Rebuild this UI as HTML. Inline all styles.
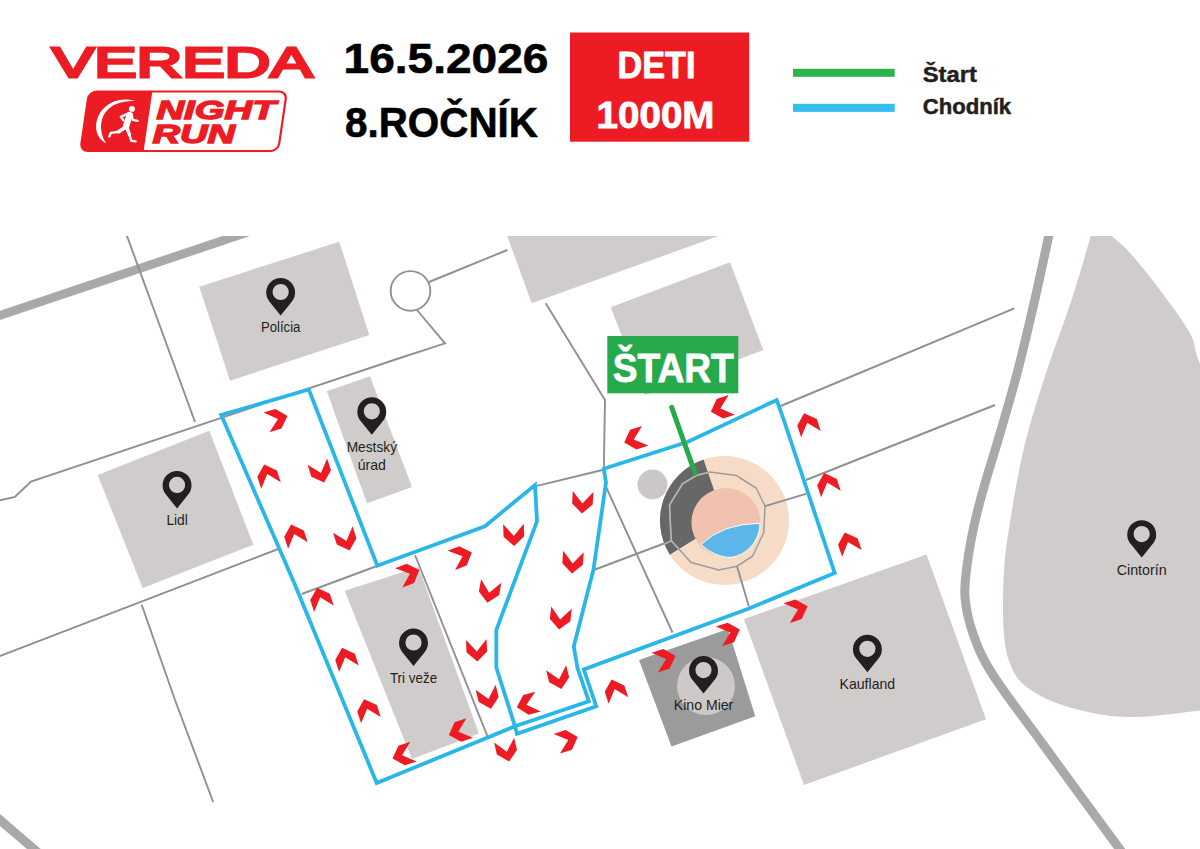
<!DOCTYPE html>
<html lang="sk"><head><meta charset="utf-8"><title>Vereda Night Run – Deti 1000M</title>
<style>
html,body{margin:0;padding:0;background:#fff;}
body{width:1200px;height:849px;overflow:hidden;}
svg{display:block;font-family:"Liberation Sans", sans-serif;}
</style></head><body>
<svg width="1200" height="849" viewBox="0 0 1200 849">
<rect width="1200" height="849" fill="#fff"/>
<defs><clipPath id="mapclip"><rect x="0" y="236" width="1200" height="613"/></clipPath></defs>
<g clip-path="url(#mapclip)">
<polygon points="199.3,286.7 339.3,241.7 369.3,335.0 230.0,380.7" fill="#d0cccb"/>
<polygon points="97.7,475.0 209.3,430.7 253.3,544.7 142.7,588.0" fill="#d0cccb"/>
<polygon points="326.8,391.2 370.0,376.2 412.0,487.0 367.0,503.2" fill="#d0cccb"/>
<polygon points="344.7,590.8 418.5,567.0 478.9,733.5 411.9,758.9" fill="#d0cccb"/>
<polygon points="507.3,236.0 718.3,236.0 531.7,303.3" fill="#d0cccb"/>
<polygon points="610.7,307.3 730.0,262.3 763.3,350.0 645.0,395.0" fill="#d0cccb"/>
<polygon points="744.0,619.0 926.5,554.5 986.0,719.3 804.0,785.0" fill="#d0cccb"/>
<polygon points="639.0,660.0 728.0,629.0 755.3,716.3 671.5,746.5" fill="#9b9b9b"/>
<circle cx="706" cy="686" r="29" fill="#cdc9c8"/>
<path d="M1093.5,226.0 C1091.5,227.7 1094.5,223.6 1090.8,236.0 C1087.1,248.4 1078.7,278.1 1071.3,300.7 C1063.9,323.2 1054.2,347.8 1046.6,371.3 C1038.9,394.9 1031.2,418.9 1025.4,442.0 C1019.6,465.1 1015.5,489.2 1012.0,510.0 C1008.5,530.8 1005.7,547.4 1004.3,567.0 C1002.9,586.6 1002.6,611.9 1003.5,627.8 C1004.4,643.7 1005.9,652.8 1009.6,662.6 C1013.4,672.4 1016.7,679.3 1026.0,686.5 C1035.3,693.7 1048.5,700.9 1065.2,706.0 C1081.9,711.1 1103.5,716.3 1126.0,717.0 C1148.5,717.7 1182.7,712.4 1200.0,710.4 C1217.3,708.4 1225.0,753.4 1230.0,705.0 C1235.0,656.6 1235.0,476.9 1230.0,420.0 C1225.0,363.1 1206.7,377.8 1200.0,363.3 C1193.3,348.9 1196.7,345.5 1190.0,333.3 C1183.3,321.1 1170.0,303.4 1160.0,290.0 C1150.0,276.6 1138.0,262.0 1130.0,253.0 C1122.0,244.0 1116.5,240.5 1112.0,236.0 C1107.5,231.5 1106.1,227.7 1103.0,226.0 C1099.9,224.3 1095.5,224.3 1093.5,226.0" fill="#d0cccb"/>
<path d="M-30,325.4 L265.2,226.3" stroke="#a9a9a9" stroke-width="8.8" fill="none"/>
<path d="M-6,814.8 L42,856" stroke="#a9a9a9" stroke-width="9" fill="none"/>
<path d="M1051.0,226.0 C1050.6,227.7 1051.4,223.6 1048.7,236.0 C1046.0,248.4 1039.8,278.1 1034.6,300.7 C1029.4,323.2 1023.8,347.8 1017.6,371.3 C1011.4,394.9 1002.8,423.9 997.5,442.0 C992.2,460.1 989.7,467.0 986.0,480.0 C982.3,493.0 978.3,506.7 975.3,520.0 C972.3,533.3 969.5,547.2 967.8,560.0 C966.1,572.8 964.0,584.2 965.0,597.0 C966.0,609.8 969.2,623.4 974.0,636.5 C978.8,649.6 981.9,657.6 993.5,675.7 C1005.1,693.8 1022.5,716.1 1043.5,745.0 C1064.5,773.9 1105.5,829.7 1119.6,849.0 C1133.7,868.3 1126.6,859.0 1128.0,861.0" stroke="#a9a9a9" stroke-width="9" fill="none"/>
<polyline points="123.5,226.0 127.0,236.0 195.0,422.0" stroke="#909090" stroke-width="1.9" fill="none"/>
<polyline points="-5.0,501.5 15.0,496.8 31.0,481.5 400.0,358.0 445.0,343.3 416.5,309.5" stroke="#909090" stroke-width="1.9" fill="none"/>
<polyline points="429.0,282.0 507.3,250.0" stroke="#909090" stroke-width="1.9" fill="none"/>
<polyline points="545.7,303.3 605.0,400.0 603.8,470.0" stroke="#909090" stroke-width="1.9" fill="none"/>
<polyline points="537.0,485.8 602.5,470.0" stroke="#909090" stroke-width="1.9" fill="none"/>
<polyline points="606.3,487.5 672.5,632.5" stroke="#909090" stroke-width="1.9" fill="none"/>
<polyline points="593.8,570.0 672.0,540.5" stroke="#909090" stroke-width="1.9" fill="none"/>
<polyline points="415.0,555.0 487.5,736.3" stroke="#909090" stroke-width="1.9" fill="none"/>
<polyline points="-5.0,658.0 278.3,549.0" stroke="#909090" stroke-width="1.9" fill="none"/>
<polyline points="301.7,594.0 377.0,566.0" stroke="#909090" stroke-width="1.9" fill="none"/>
<polyline points="141.7,604.7 175.0,700.0 213.2,802.0" stroke="#909090" stroke-width="1.9" fill="none"/>
<polyline points="779.5,406.5 1014.3,308.3" stroke="#909090" stroke-width="1.9" fill="none"/>
<polyline points="806.0,480.0 995.0,405.0" stroke="#909090" stroke-width="1.9" fill="none"/>
<circle cx="410.5" cy="290.9" r="19.8" fill="#fff" stroke="#909090" stroke-width="1.9"/>
<circle cx="652.5" cy="484.5" r="15" fill="#cbc7c6"/>
<circle cx="724.5" cy="520.5" r="64.5" fill="#f6dcc6"/>
<path d="M669.8,554.7 A64.5,64.5 0 0 1 703.5,459.5 L714.7,492.1 A30,30 0 0 0 699.1,536.4 Z" fill="#676767"/>
<circle cx="725.9" cy="522.5" r="34.5" fill="#f1c2af"/>
<path d="M701.25,544.25 Q722.5,523.75 760,523.25 C760,545 740,560 725,557 C715,555 706.25,550 701.25,544.25 Z" fill="#5cb6e9" stroke="#fff" stroke-width="1"/>
<polygon points="671.2,540.8 669.5,505.0 682.5,483.8 696.2,475.5 710.0,472.0 736.2,475.5 756.2,488.0 765.0,506.2 763.8,532.5 752.5,556.2 737.0,566.2 718.8,570.0 691.2,562.5" stroke="#9c9c9c" stroke-width="1.5" fill="none"/>
<clipPath id="sec"><path d="M669.8,554.7 A64.5,64.5 0 0 1 703.5,459.5 L714.7,492.1 A30,30 0 0 0 699.1,536.4 Z"/></clipPath>
<g clip-path="url(#sec)"><polygon points="671.2,540.8 669.5,505.0 682.5,483.8 696.2,475.5 710.0,472.0 736.2,475.5 756.2,488.0 765.0,506.2 763.8,532.5 752.5,556.2 737.0,566.2 718.8,570.0 691.2,562.5" stroke="#b4b4b4" stroke-width="1.5" fill="none"/><polyline points="640.0,555.6 671.2,540.8" stroke="#b4b4b4" stroke-width="1.6" fill="none"/></g>
<polyline points="765.0,506.2 806.0,493.8" stroke="#909090" stroke-width="1.9" fill="none"/>
<polyline points="737.0,566.2 748.8,606.2" stroke="#909090" stroke-width="1.9" fill="none"/>
<polyline points="293.8,582.0 221.2,415.0 308.8,389.5 377.3,565.7 485.0,526.3 535.0,485.0 537.0,521.3 496.3,630.0 496.3,667.5 515.0,726.3" stroke="#2bb6e9" stroke-width="3.8" fill="none" stroke-linejoin="miter"/>
<polyline points="293.8,582.0 376.7,783.0 515.0,726.3 517.0,733.8 596.3,706.3 583.8,669.5 749.0,608.5 834.7,573.0 783.8,420.0 776.7,400.0 688.0,441.8 603.8,468.8 606.0,482.5 593.5,569.5 573.8,646.3 577.5,668.0 588.8,701.2 515.0,726.3" stroke="#2bb6e9" stroke-width="3.8" fill="none" stroke-linejoin="miter"/>
<line x1="671.7" y1="407.3" x2="695" y2="473" stroke="#27aa4b" stroke-width="5" stroke-linecap="round"/>
<polygon points="-11.0,-10.3 1.0,0.0 -11.0,10.3 1.5,10.3 11.0,0.0 1.5,-10.3" fill="#ed1c24" transform="translate(277.0,419.2) rotate(-17)"/>
<polygon points="-11.0,-10.3 1.0,0.0 -11.0,10.3 1.5,10.3 11.0,0.0 1.5,-10.3" fill="#ed1c24" transform="translate(267.6,475.0) rotate(-108)"/>
<polygon points="-11.0,-10.3 1.0,0.0 -11.0,10.3 1.5,10.3 11.0,0.0 1.5,-10.3" fill="#ed1c24" transform="translate(320.7,472.1) rotate(72)"/>
<polygon points="-11.0,-10.3 1.0,0.0 -11.0,10.3 1.5,10.3 11.0,0.0 1.5,-10.3" fill="#ed1c24" transform="translate(294.5,535.0) rotate(-108)"/>
<polygon points="-11.0,-10.3 1.0,0.0 -11.0,10.3 1.5,10.3 11.0,0.0 1.5,-10.3" fill="#ed1c24" transform="translate(346.2,540.0) rotate(72)"/>
<polygon points="-11.0,-10.3 1.0,0.0 -11.0,10.3 1.5,10.3 11.0,0.0 1.5,-10.3" fill="#ed1c24" transform="translate(320.5,598.3) rotate(-108)"/>
<polygon points="-11.0,-10.3 1.0,0.0 -11.0,10.3 1.5,10.3 11.0,0.0 1.5,-10.3" fill="#ed1c24" transform="translate(345.5,658.3) rotate(-108)"/>
<polygon points="-11.0,-10.3 1.0,0.0 -11.0,10.3 1.5,10.3 11.0,0.0 1.5,-10.3" fill="#ed1c24" transform="translate(367.5,709.7) rotate(-108)"/>
<polygon points="-11.0,-10.3 1.0,0.0 -11.0,10.3 1.5,10.3 11.0,0.0 1.5,-10.3" fill="#ed1c24" transform="translate(403.0,755.0) rotate(162)"/>
<polygon points="-11.0,-10.3 1.0,0.0 -11.0,10.3 1.5,10.3 11.0,0.0 1.5,-10.3" fill="#ed1c24" transform="translate(409.0,574.0) rotate(-21)"/>
<polygon points="-11.0,-10.3 1.0,0.0 -11.0,10.3 1.5,10.3 11.0,0.0 1.5,-10.3" fill="#ed1c24" transform="translate(461.6,556.5) rotate(-21)"/>
<polygon points="-11.0,-10.3 1.0,0.0 -11.0,10.3 1.5,10.3 11.0,0.0 1.5,-10.3" fill="#ed1c24" transform="translate(489.3,591.8) rotate(100)"/>
<polygon points="-11.0,-10.3 1.0,0.0 -11.0,10.3 1.5,10.3 11.0,0.0 1.5,-10.3" fill="#ed1c24" transform="translate(476.8,650.5) rotate(87)"/>
<polygon points="-11.0,-10.3 1.0,0.0 -11.0,10.3 1.5,10.3 11.0,0.0 1.5,-10.3" fill="#ed1c24" transform="translate(488.3,698.0) rotate(76)"/>
<polygon points="-11.0,-10.3 1.0,0.0 -11.0,10.3 1.5,10.3 11.0,0.0 1.5,-10.3" fill="#ed1c24" transform="translate(506.6,750.8) rotate(77)"/>
<polygon points="-11.0,-10.3 1.0,0.0 -11.0,10.3 1.5,10.3 11.0,0.0 1.5,-10.3" fill="#ed1c24" transform="translate(513.8,535.0) rotate(88)"/>
<polygon points="-11.0,-10.3 1.0,0.0 -11.0,10.3 1.5,10.3 11.0,0.0 1.5,-10.3" fill="#ed1c24" transform="translate(582.5,502.5) rotate(93)"/>
<polygon points="-11.0,-10.3 1.0,0.0 -11.0,10.3 1.5,10.3 11.0,0.0 1.5,-10.3" fill="#ed1c24" transform="translate(572.7,562.5) rotate(94)"/>
<polygon points="-11.0,-10.3 1.0,0.0 -11.0,10.3 1.5,10.3 11.0,0.0 1.5,-10.3" fill="#ed1c24" transform="translate(560.3,618.6) rotate(96)"/>
<polygon points="-11.0,-10.3 1.0,0.0 -11.0,10.3 1.5,10.3 11.0,0.0 1.5,-10.3" fill="#ed1c24" transform="translate(558.8,678.4) rotate(76)"/>
<polygon points="-11.0,-10.3 1.0,0.0 -11.0,10.3 1.5,10.3 11.0,0.0 1.5,-10.3" fill="#ed1c24" transform="translate(527.4,704.5) rotate(165)"/>
<polygon points="-11.0,-10.3 1.0,0.0 -11.0,10.3 1.5,10.3 11.0,0.0 1.5,-10.3" fill="#ed1c24" transform="translate(459.3,731.5) rotate(161)"/>
<polygon points="-11.0,-10.3 1.0,0.0 -11.0,10.3 1.5,10.3 11.0,0.0 1.5,-10.3" fill="#ed1c24" transform="translate(567.3,740.3) rotate(-18)"/>
<polygon points="-11.0,-10.3 1.0,0.0 -11.0,10.3 1.5,10.3 11.0,0.0 1.5,-10.3" fill="#ed1c24" transform="translate(615.0,690.0) rotate(-108)"/>
<polygon points="-11.0,-10.3 1.0,0.0 -11.0,10.3 1.5,10.3 11.0,0.0 1.5,-10.3" fill="#ed1c24" transform="translate(665.1,659.2) rotate(-18)"/>
<polygon points="-11.0,-10.3 1.0,0.0 -11.0,10.3 1.5,10.3 11.0,0.0 1.5,-10.3" fill="#ed1c24" transform="translate(729.4,632.9) rotate(-18)"/>
<polygon points="-11.0,-10.3 1.0,0.0 -11.0,10.3 1.5,10.3 11.0,0.0 1.5,-10.3" fill="#ed1c24" transform="translate(797.1,609.7) rotate(-18)"/>
<polygon points="-11.0,-10.3 1.0,0.0 -11.0,10.3 1.5,10.3 11.0,0.0 1.5,-10.3" fill="#ed1c24" transform="translate(848.3,542.9) rotate(-109)"/>
<polygon points="-11.0,-10.3 1.0,0.0 -11.0,10.3 1.5,10.3 11.0,0.0 1.5,-10.3" fill="#ed1c24" transform="translate(827.5,483.5) rotate(-108)"/>
<polygon points="-11.0,-10.3 1.0,0.0 -11.0,10.3 1.5,10.3 11.0,0.0 1.5,-10.3" fill="#ed1c24" transform="translate(807.5,423.7) rotate(-108)"/>
<polygon points="-11.0,-10.3 1.0,0.0 -11.0,10.3 1.5,10.3 11.0,0.0 1.5,-10.3" fill="#ed1c24" transform="translate(721.3,408.3) rotate(162)"/>
<polygon points="-11.0,-10.3 1.0,0.0 -11.0,10.3 1.5,10.3 11.0,0.0 1.5,-10.3" fill="#ed1c24" transform="translate(634.7,439.2) rotate(162)"/>
<path fill-rule="evenodd" fill="#231f20" d="M280.65,315.50 L269.51,301.70 A14.45,14.45 0 1 1 291.79,301.70 Z M272.55,292.00 a8.1,8.1 0 1 0 16.2,0 a8.1,8.1 0 1 0 -16.2,0 Z"/>
<text x="260.9" y="332.0" font-size="14.5" textLength="39.5" lengthAdjust="spacingAndGlyphs" fill="#231f20">Polícia</text>
<path fill-rule="evenodd" fill="#231f20" d="M177.05,508.40 L165.91,494.60 A14.45,14.45 0 1 1 188.19,494.60 Z M168.95,484.90 a8.1,8.1 0 1 0 16.2,0 a8.1,8.1 0 1 0 -16.2,0 Z"/>
<text x="166.4" y="524.9" font-size="14.5" textLength="21.4" lengthAdjust="spacingAndGlyphs" fill="#231f20">Lidl</text>
<path fill-rule="evenodd" fill="#231f20" d="M371.80,434.80 L360.66,421.00 A14.45,14.45 0 1 1 382.94,421.00 Z M363.70,411.30 a8.1,8.1 0 1 0 16.2,0 a8.1,8.1 0 1 0 -16.2,0 Z"/>
<text x="346.7" y="452.0" font-size="14.5" textLength="50.3" lengthAdjust="spacingAndGlyphs" fill="#231f20">Mestský</text>
<text x="357.7" y="469.7" font-size="14.5" textLength="28.2" lengthAdjust="spacingAndGlyphs" fill="#231f20">úrad</text>
<path fill-rule="evenodd" fill="#231f20" d="M413.50,666.00 L402.36,652.20 A14.45,14.45 0 1 1 424.64,652.20 Z M405.40,642.50 a8.1,8.1 0 1 0 16.2,0 a8.1,8.1 0 1 0 -16.2,0 Z"/>
<text x="389.9" y="683.0" font-size="14.5" textLength="47.2" lengthAdjust="spacingAndGlyphs" fill="#231f20">Tri veže</text>
<path fill-rule="evenodd" fill="#231f20" d="M703.50,693.55 L692.36,679.75 A14.45,14.45 0 1 1 714.64,679.75 Z M695.40,670.05 a8.1,8.1 0 1 0 16.2,0 a8.1,8.1 0 1 0 -16.2,0 Z"/>
<text x="673.8" y="710.2" font-size="14.5" textLength="59.5" lengthAdjust="spacingAndGlyphs" fill="#231f20">Kino Mier</text>
<path fill-rule="evenodd" fill="#231f20" d="M867.40,672.30 L856.26,658.50 A14.45,14.45 0 1 1 878.54,658.50 Z M859.30,648.80 a8.1,8.1 0 1 0 16.2,0 a8.1,8.1 0 1 0 -16.2,0 Z"/>
<text x="839.6" y="688.6" font-size="14.5" textLength="55.5" lengthAdjust="spacingAndGlyphs" fill="#231f20">Kaufland</text>
<path fill-rule="evenodd" fill="#231f20" d="M1141.70,557.60 L1130.56,543.80 A14.45,14.45 0 1 1 1152.84,543.80 Z M1133.60,534.10 a8.1,8.1 0 1 0 16.2,0 a8.1,8.1 0 1 0 -16.2,0 Z"/>
<text x="1116.7" y="574.7" font-size="14.5" textLength="50" lengthAdjust="spacingAndGlyphs" fill="#231f20">Cintorín</text>
<rect x="607.3" y="336" width="131" height="57.3" fill="#27aa4b"/>
<text x="612.8" y="382.3" font-size="40.6" font-weight="700" fill="#fff" stroke="#fff" stroke-width="0.8" textLength="121" lengthAdjust="spacingAndGlyphs">ŠTART</text>
</g>
<text x="52" y="76.5" font-size="42.5" font-weight="400" fill="#ed1c24" stroke="#ed1c24" stroke-width="2.9" stroke-linejoin="miter" textLength="260.5" lengthAdjust="spacingAndGlyphs">VEREDA</text>
<g transform="translate(0,152) skewX(-8.3) translate(0,-152)"><rect x="80.2" y="91.5" width="197.8" height="59.5" rx="7.5" fill="#fff" stroke="#ed1c24" stroke-width="2.2"/><path d="M87.5,91.5 H143.5 V151 H87.5 A7.5,7.5 0 0 1 80.2,143.5 V99 A7.5,7.5 0 0 1 87.5,91.5 Z" fill="#ed1c24"/></g>
<text x="156.5" y="118.8" font-size="26.2" font-weight="700" font-style="italic" fill="#ed1c24" stroke="#ed1c24" stroke-width="1.4" textLength="119" lengthAdjust="spacingAndGlyphs">NIGHT</text>
<text x="152.5" y="143.3" font-size="25.6" font-weight="700" font-style="italic" fill="#ed1c24" stroke="#ed1c24" stroke-width="1.4" textLength="82.5" lengthAdjust="spacingAndGlyphs">RUN</text>
<path d="M135.6,101.1 C124,97 108,100 100,113 C93,125 95.5,137.5 106.3,143.5 C99.5,134 99.5,121 105,113 C111.5,103.5 124,100.5 135.6,101.1 Z" fill="#fff"/>
<g fill="none" stroke="#fff" stroke-linecap="round" stroke-linejoin="round"><circle cx="131.9" cy="108.9" r="3" fill="#fff" stroke="none"/><path d="M129.6,115 L126,126.5" stroke-width="6.4"/><path d="M128,113.6 L120.8,116.9 L123.4,120.2" stroke-width="2.3"/><path d="M131.6,114.5 L132.8,119.9 L137.6,120.9" stroke-width="2.3"/><path d="M125,127.5 L118.7,131.8" stroke-width="3.6"/><path d="M118.7,131.8 L110.8,132.9 L109.2,136.4" stroke-width="2.4"/><path d="M127,128 L129.4,134.5" stroke-width="3.6"/><path d="M129.4,134.5 L131.3,140.8 L135.6,141.4" stroke-width="2.4"/></g>
<text x="343.5" y="73" font-size="42" font-weight="700" fill="#000" stroke="#000" stroke-width="0.6" textLength="205" lengthAdjust="spacingAndGlyphs">16.5.2026</text>
<text x="345" y="137" font-size="42" font-weight="700" fill="#000" stroke="#000" stroke-width="0.6" textLength="193" lengthAdjust="spacingAndGlyphs">8.ROČNÍK</text>
<rect x="570" y="32.5" width="179.2" height="109.2" fill="#ed1c24"/>
<text x="617.5" y="77.5" font-size="37.3" font-weight="700" fill="#fff" stroke="#fff" stroke-width="0.9" textLength="78" lengthAdjust="spacingAndGlyphs">DETI</text>
<text x="596.5" y="127.5" font-size="37.3" font-weight="700" fill="#fff" stroke="#fff" stroke-width="0.9" textLength="118" lengthAdjust="spacingAndGlyphs">1000M</text>
<rect x="793" y="68.8" width="101.7" height="8" fill="#2bb34c"/>
<rect x="793" y="103.8" width="101.7" height="8.1" fill="#35bef0"/>
<text x="922.7" y="82.3" font-size="22.8" font-weight="700" fill="#231f20" stroke="#231f20" stroke-width="0.5" textLength="54.2" lengthAdjust="spacingAndGlyphs">Štart</text>
<text x="922.7" y="113.5" font-size="22.8" font-weight="700" fill="#231f20" stroke="#231f20" stroke-width="0.5" textLength="88.5" lengthAdjust="spacingAndGlyphs">Chodník</text>
</svg>
</body></html>
